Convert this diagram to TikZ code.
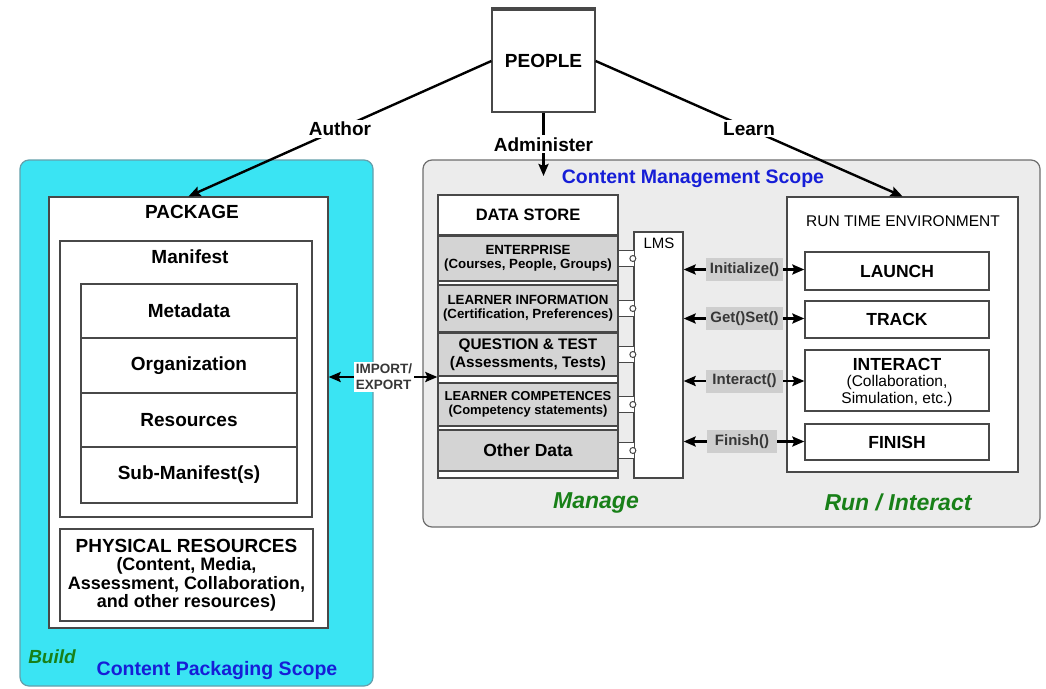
\documentclass[tikz,border=0pt]{standalone}
\usepackage{fontspec}
\setmainfont{Liberation Sans}
\usetikzlibrary{arrows.meta}

\definecolor{cyanfill}{RGB}{58,228,243}
\definecolor{cyanedge}{RGB}{100,160,172}
\definecolor{scopefill}{RGB}{236,236,236}
\definecolor{scopeedge}{RGB}{110,110,110}
\definecolor{rowfill}{RGB}{212,212,212}
\definecolor{funcfill}{RGB}{206,206,206}
\definecolor{edgegray}{RGB}{72,72,72}
\definecolor{scopeblue}{RGB}{22,30,215}
\definecolor{phasegreen}{RGB}{24,128,24}
\definecolor{functext}{RGB}{55,55,55}

\tikzset{
  box/.style={draw=edgegray, line width=1.3pt, fill=white, inner sep=0pt},
  rowbox/.style={box, fill=rowfill, align=center},
  big/.style={font=\fontsize{19}{21}\selectfont\bfseries, text=black},
  mid/.style={font=\fontsize{17.5}{19}\selectfont\bfseries, text=black},
  small/.style={font=\fontsize{13.3}{15}\selectfont\bfseries, text=black},
  scopelabel/.style={font=\fontsize{19.5}{21}\selectfont\bfseries, text=scopeblue},
  phase/.style={font=\fontsize{23}{25}\selectfont\bfseries\itshape, text=phasegreen},
  func/.style={fill=funcfill, font=\fontsize{15}{17}\selectfont\bfseries, text=functext,
               minimum width=77, minimum height=23, inner sep=1pt},
  lbl/.style={fill=white, big, inner sep=2pt},
  arr/.style={-{Stealth[length=12pt,width=10pt,inset=2pt]}, line width=2.4pt, draw=black},
  portline/.style={draw=edgegray, line width=1pt},
}

\begin{document}
\begin{tikzpicture}[x=1pt, y=-1pt]
\useasboundingbox (0,0) rectangle (1046,688);
\fill[white] (0,0) rectangle (1046,688);

% ---------- scopes ----------
\node[draw=cyanedge, fill=cyanfill, rounded corners=9pt, line width=1.2pt,
      minimum width=353, minimum height=526, inner sep=0pt] (cps) at (196.5,423) {};
\node[draw=scopeedge, fill=scopefill, rounded corners=9pt, line width=1.2pt,
      minimum width=617, minimum height=367, inner sep=0pt] (cms) at (731.5,343.5) {};

% ---------- people ----------
\node[box, big, minimum width=103, minimum height=102] (people) at (543.5,61) {PEOPLE};
\draw[line width=4pt, draw=edgegray] (people.north west) -- (people.north east);

% ---------- content package ----------
\node[box, minimum width=279, minimum height=431] (package) at (188.5,412.5) {};
\node[big] (packagetitle) at (192,212) {PACKAGE};
\node[box, minimum width=252, minimum height=276] (manifest) at (186,379) {};
\node[big] (manifesttitle) at (190,257) {Manifest};
\node[box, big, minimum width=216, minimum height=54] (metadata) at (189,311) {Metadata};
\node[box, big, minimum width=216, minimum height=55] (organization) at (189,365.5) {Organization};
\node[box, big, minimum width=216, minimum height=54] (resources) at (189,420) {Resources};
\node[box, big, minimum width=216, minimum height=56] (submanifest) at (189,475) {Sub-Manifest(s)};
\node[box, minimum width=253, minimum height=92, align=center,
      font=\fontsize{18}{18.5}\selectfont\bfseries] (physres) at (186.5,575)
  {{\fontsize{19}{19}\selectfont PHYSICAL RESOURCES}\\(Content, Media,\\Assessment, Collaboration,\\and other resources)};

\node[font=\fontsize{19}{21}\selectfont\bfseries\itshape, text=phasegreen] (build) at (52,657) {Build};
\node[scopelabel] (cpslabel) at (217,670) {Content Packaging Scope};

% ---------- content management ----------
\node[scopelabel] (cmslabel) at (693,179) {Content Management Scope};

\node[box, minimum width=180, minimum height=283] (dscol) at (528,336.5) {};
\node[box, font=\fontsize{16.5}{18}\selectfont\bfseries, minimum width=180, minimum height=40] (datastore) at (528,215) {DATA STORE};
\node[rowbox, small, minimum width=180, minimum height=45] (enterprise) at (528,258.5)
  {ENTERPRISE\\[-1pt](Courses, People, Groups)};
\node[rowbox, small, minimum width=180, minimum height=47] (learnerinfo) at (528,308.5)
  {LEARNER INFORMATION\\[-1pt](Certification, Preferences)};
\node[rowbox, font=\fontsize{15.3}{18}\selectfont\bfseries, minimum width=180, minimum height=43] (qtest) at (528,354.5)
  {QUESTION \& TEST\\(Assessments, Tests)};
\node[rowbox, font=\fontsize{13}{15}\selectfont\bfseries, minimum width=180, minimum height=43] (lcomp) at (528,404.5)
  {LEARNER COMPETENCES\\[-1pt](Competency statements)};
\node[rowbox, mid, minimum width=180, minimum height=41] (other) at (528,450.5) {Other Data};

\node[box, minimum width=49, minimum height=246] (lms) at (658.5,355) {};
\node[font=\fontsize{15}{17}\selectfont, text=black] (lmslabel) at (659,243) {LMS};

% ports joining the data store to the LMS
\foreach \r in {enterprise, learnerinfo, qtest, lcomp, other} {
  \draw[portline, fill=white] ([yshift=8pt]\r.east) rectangle ++(16,16);
  \draw[portline, fill=white] ([xshift=-0.5pt]\r.east -| lms.west) circle (3pt);
}

% ---------- run time environment ----------
\node[box, minimum width=231, minimum height=275] (rte) at (902.5,334.5) {};
\node[font=\fontsize{15.5}{17}\selectfont, text=black] (rtelabel) at (903,221) {RUN TIME ENVIRONMENT};
\node[box, mid, minimum width=184, minimum height=38] (launch) at (897,271) {LAUNCH};
\node[box, mid, minimum width=184, minimum height=37] (track) at (897,319.5) {TRACK};
\node[box, minimum width=184, minimum height=61] (interact) at (897,380.5) {};
\node[align=center, font=\fontsize{15.5}{16.5}\selectfont, inner sep=0pt] (interacttext) at (897,382)
  {{\fontsize{17.5}{17.5}\selectfont\bfseries INTERACT}\\(Collaboration,\\Simulation, etc.)};
\node[box, mid, minimum width=184, minimum height=36] (finish) at (897,442) {FINISH};

\node[func] (initf) at (744.5,269.5) {Initialize()};
\node[func] (getsetf) at (744.5,318.5) {Get()Set()};
\node[func] (interactf) at (744.5,381) {Interact()};
\node[func, minimum width=70] (finishf) at (742,441.5) {Finish()};

\foreach \f/\t in {initf/launch, getsetf/track, interactf/interact, finishf/finish} {
  \draw[arr] (\f.west) -- (\f.west -| lms.east);
  \draw[arr] (\f.east) -- (\f.east -| \t.west);
}

\node[phase] (manage) at (596,503) {Manage};
\node[phase] (runinteract) at (898,502) {Run / Interact};

% ---------- import / export ----------
\node[fill=white, font=\fontsize{13.5}{16}\selectfont\bfseries, text=functext, align=left, inner sep=2pt]
  (impexp) at (384,377) {IMPORT/\\EXPORT};
\draw[arr] (impexp.west) -- (impexp.west -| package.east);
\draw[arr] (impexp.east) -- (impexp.east -| dscol.west);

% ---------- roles ----------
\coordinate (admtip) at (543.5,176);
\draw[arr] (people.west) -- node[lbl] (author) {Author} (package.north);
\draw[arr] (people.south) -- node[lbl] (administer) {Administer} (admtip);
\draw[arr] (people.east) -- node[lbl] (learn) {Learn} (rte.north);
\end{tikzpicture}
\end{document}
